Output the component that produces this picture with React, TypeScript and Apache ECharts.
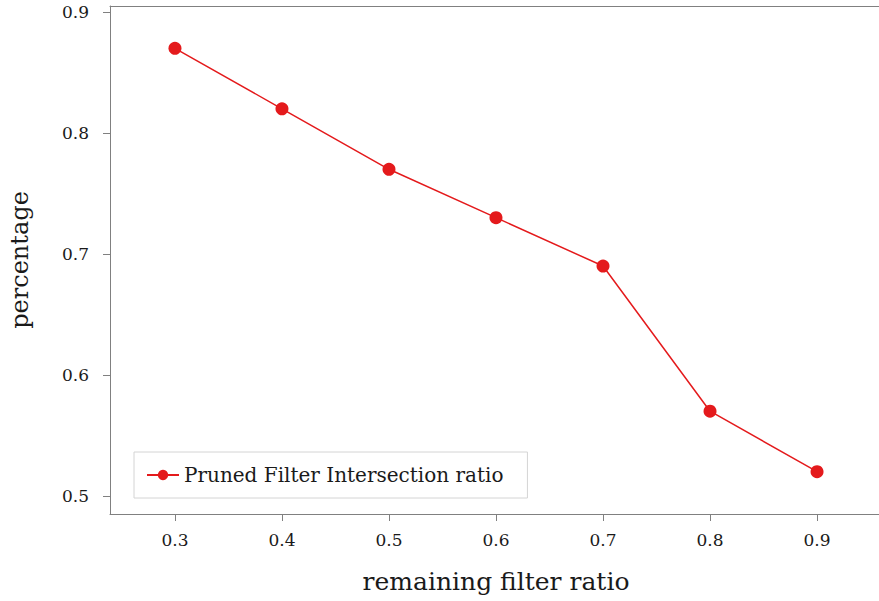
import React, { useEffect, useRef } from "react";
import * as echarts from "echarts";

const xValues = [0.3, 0.4, 0.5, 0.6, 0.7, 0.8, 0.9];
const yValues = [0.87, 0.82, 0.77, 0.73, 0.69, 0.57, 0.52];
const yTicks = [0.5, 0.6, 0.7, 0.8, 0.9];
const seriesName = "Pruned Filter Intersection ratio";
const xAxisName = "remaining filter ratio";
const yAxisName = "percentage";

const FONT = "'DejaVu Serif', 'Liberation Serif', serif";
const AXIS_COLOR = "#808080";
const RED = "#e41a1c";
const TEXT = "#1a1a1a";

export default function App() {
  const ref = useRef<HTMLDivElement>(null);
  useEffect(() => {
    document.body.style.margin = "0";
    document.body.style.overflow = "hidden";
    const chart = echarts.init(ref.current!, undefined, { renderer: "svg" });
    chart.setOption({
      animation: false,
      backgroundColor: "#ffffff",
      textStyle: { fontFamily: FONT },
      grid: {
        left: 110,
        top: 6,
        width: 772,
        height: 508,
        show: false,
        outerBoundsMode: "none",
        containLabel: false,
      },
      legend: {
        show: true,
        left: 134,
        top: 452,
        padding: [13, 24, 13, 12],
        borderColor: "#d4d4d4",
        borderWidth: 1,
        itemWidth: 32,
        itemHeight: 13,
        itemGap: 8,
        textStyle: { fontFamily: FONT, fontSize: 20, color: TEXT },
        data: [seriesName],
      },
      xAxis: [
        {
          type: "value",
          min: 0.2393,
          max: 0.9607,
          name: xAxisName,
          nameLocation: "middle",
          nameGap: 55,
          nameTextStyle: { fontFamily: FONT, fontSize: 25, color: TEXT },
          axisLine: { show: true, onZero: false, lineStyle: { color: AXIS_COLOR } },
          axisTick: { show: true, length: 7, lineStyle: { color: AXIS_COLOR }, customValues: xValues },
          axisLabel: {
            fontFamily: FONT,
            fontSize: 17,
            color: TEXT,
            margin: 17,
            customValues: xValues,
            formatter: (v: number) => v.toFixed(1),
          },
          splitLine: { show: false },
        },
        {
          type: "value",
          position: "top",
          min: 0.2393,
          max: 0.9607,
          axisLine: { show: true, onZero: false, lineStyle: { color: AXIS_COLOR } },
          axisTick: { show: false },
          axisLabel: { show: false },
          splitLine: { show: false },
        },
      ],
      yAxis: {
        type: "value",
        min: 0.485,
        max: 0.905,
        name: yAxisName,
        nameLocation: "middle",
        nameGap: 78,
        nameTextStyle: { fontFamily: FONT, fontSize: 24, color: TEXT },
        axisLine: { show: true, lineStyle: { color: AXIS_COLOR } },
        axisTick: { show: true, length: 7, lineStyle: { color: AXIS_COLOR }, customValues: yTicks },
        axisLabel: {
          fontFamily: FONT,
          fontSize: 17,
          color: TEXT,
          margin: 21,
          customValues: yTicks,
          formatter: (v: number) => v.toFixed(1),
        },
        splitLine: { show: false },
      },
      series: [
        {
          name: seriesName,
          type: "line",
          xAxisIndex: 0,
          data: xValues.map((x, i) => [x, yValues[i]]),
          symbol: "circle",
          symbolSize: 13,
          itemStyle: { color: RED },
          lineStyle: { color: RED, width: 1.5 },
        },
      ],
    });
    return () => chart.dispose();
  }, []);
  return <div ref={ref} style={{ width: 879, height: 601 }} />;
}
